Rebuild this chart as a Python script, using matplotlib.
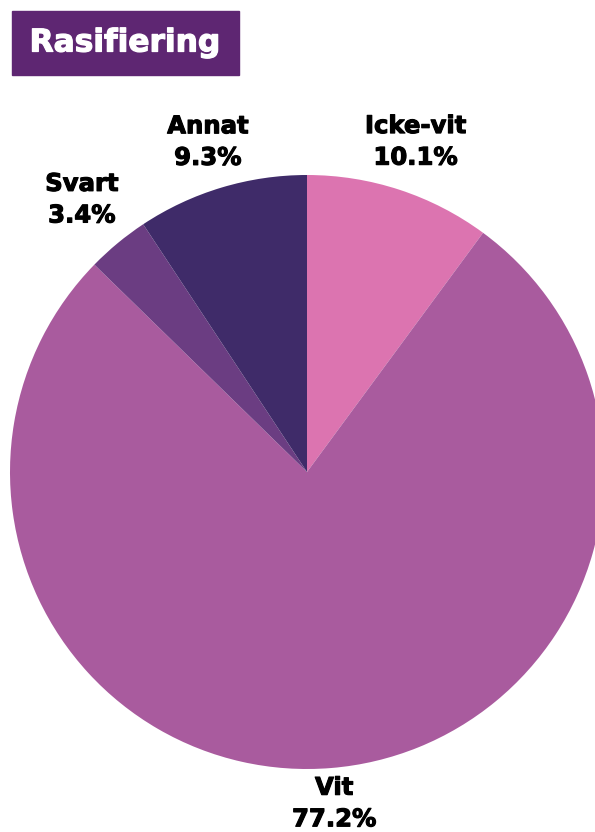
import numpy as np
import matplotlib
matplotlib.use("Agg")
import matplotlib.pyplot as plt
import matplotlib.patheffects as pe
from matplotlib.patches import Rectangle

# data
categories = ["Icke-vit", "Vit", "Svart", "Annat"]
shares = [10.1, 77.2, 3.4, 9.3]
colors = ["#dc74b0", "#a95b9e", "#6b3d82", "#3f2b69"]
label_dist = [1.17, 1.12, 1.19, 1.16]

W, H = 595, 832
fig = plt.figure(figsize=(W / 100, H / 100), dpi=100)
ax = fig.add_axes([0, 0, 1, 1])

cx, cy, r = 307, H - 472, 297
wedges, _ = ax.pie(shares, colors=colors, startangle=90, counterclock=False,
                   center=(cx, cy), radius=r, frame=True,
                   wedgeprops=dict(linewidth=0))
ax.set_xlim(0, W)
ax.set_ylim(0, H)
ax.axis("off")

font = dict(family="DejaVu Sans", fontweight="bold")
for w, name, val, d in zip(wedges, categories, shares, label_dist):
    ang = np.deg2rad((w.theta1 + w.theta2) / 2)
    x = cx + d * r * np.cos(ang)
    y = cy + d * r * np.sin(ang)
    ax.text(x, y, f"{name}\n{val:.1f}%", ha="center", va="center",
            fontsize=17.5, color="black", linespacing=1.4,
            path_effects=[pe.withStroke(linewidth=0.8, foreground="black")],
            **font)

# title box
ax.add_patch(Rectangle((12, H - 75), 227, 64, color="#5e2672", zorder=5))
ax.text(125, H - 43, "Rasifiering", ha="center", va="center",
        fontsize=22.5, color="white", zorder=6,
        path_effects=[pe.withStroke(linewidth=0.9, foreground="white")],
        **font)

fig.savefig("out.png", dpi=100)
